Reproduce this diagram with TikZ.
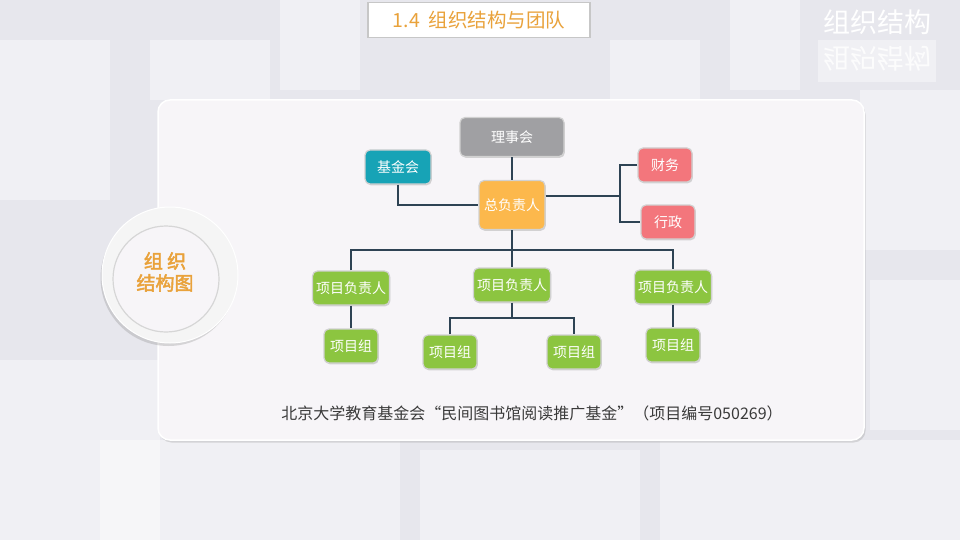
\documentclass[tikz,border=0pt]{standalone}
\usepackage{fontspec}
\newfontfamily\cjk{Noto Sans CJK SC}
\newfontfamily\cjkbold[FakeBold=2.5]{Noto Sans CJK SC}
\usetikzlibrary{positioning, shadows}
\definecolor{bggray}{HTML}{E7E7ED}
\definecolor{panelfill}{HTML}{F7F5F8}
\definecolor{titleorange}{HTML}{E9A23B}
\definecolor{councilgray}{HTML}{A0A0A3}
\definecolor{fundteal}{HTML}{17A3B6}
\definecolor{headorange}{HTML}{FCB84C}
\definecolor{deptred}{HTML}{F3767C}
\definecolor{projgreen}{HTML}{8CC540}
\definecolor{linkblue}{HTML}{2E4354}
\definecolor{notegray}{HTML}{3A3A3A}
\tikzstyle{box} = [rectangle, rounded corners=5pt, draw=white!82!black, line width=1.2pt, text=white, inner sep=0pt, font=\cjk\fontsize{14}{16}\selectfont, drop shadow={opacity=0.3, shadow xshift=0.8pt, shadow yshift=-1.3pt}]
\tikzstyle{graybox} = [box, fill=councilgray, minimum width=104pt, minimum height=39pt]
\tikzstyle{tealbox} = [box, fill=fundteal, minimum width=66pt, minimum height=34pt]
\tikzstyle{orangebox} = [box, fill=headorange, minimum width=66pt, minimum height=49pt]
\tikzstyle{redbox} = [box, fill=deptred, minimum width=54pt, minimum height=34pt]
\tikzstyle{leadbox} = [box, fill=projgreen, minimum width=77pt, minimum height=34pt]
\tikzstyle{groupbox} = [box, fill=projgreen, minimum width=54pt, minimum height=34pt]
\tikzstyle{link} = [line width=1.7pt, draw=linkblue]
\tikzstyle{tile} = [fill=white, opacity=0.4]

\begin{document}
\begin{tikzpicture}[x=1pt, y=-1pt]
        % Background
        \fill [bggray] (0,0) rectangle (960,540);
        \useasboundingbox (0,0) rectangle (960,540);
        \fill [tile] (0,40) rectangle (110,200);
        \fill [tile] (150,40) rectangle (270,100);
        \fill [tile] (280,0) rectangle (360,90);
        \fill [tile] (610,40) rectangle (700,100);
        \fill [tile] (730,0) rectangle (800,90);
        \fill [tile] (860,90) rectangle (960,250);
        \fill [tile] (0,360) rectangle (160,540);
        \fill [tile] (100,440) rectangle (400,540);
        \fill [tile] (420,450) rectangle (640,540);
        \fill [tile] (660,440) rectangle (960,540);
        \fill [tile] (870,280) rectangle (960,430);
        \fill [white, opacity=0.4] (818,40) rectangle (936,82);

        % Title
        \node (title) [rectangle, fill=white, draw=black!22, line width=1.5pt, minimum width=222pt, minimum height=35pt, text=titleorange, font=\cjk\fontsize{19.5}{21}\selectfont] at (479,20) {1.4\ \ 组织结构与团队};
        \node (corner) [text=white, font=\cjk\fontsize{27}{30}\selectfont] at (877,22) {组织结构};
        \node (mirror) [text=white, opacity=0.8, font=\cjk\fontsize{27}{30}\selectfont] at (877,59) {\scalebox{1}[-1]{组织结构}};

        % Panel
        \node (panel) [rectangle, rounded corners=12pt, fill=panelfill, draw=white, line width=1.5pt, minimum width=706pt, minimum height=340pt, drop shadow={opacity=0.25, shadow xshift=1.5pt, shadow yshift=-2.5pt}] at (511,270) {};
        \node (ring) [circle, fill=black!4, draw=white, line width=1pt, minimum size=136pt, drop shadow={opacity=0.28, shadow xshift=-1.5pt, shadow yshift=-3pt}] at (170,275) {};
        \node (disc) [circle, fill=panelfill, draw=black!16, line width=1.2pt, minimum size=106pt] at (166,279) {};
        \node (badge) [align=center, text=titleorange, font=\cjkbold\fontsize{19}{22}\selectfont] at (165,272) {组\ 织\\结构图};

        % Nodes
        \node (council) [graybox] at (512,137) {理事会};
        \node (fund) [tealbox] at (398,167) {基金会};
        \node (director) [orangebox] at (512,205) {总负责人};
        \node (finance) [redbox] at (665,165) {财务};
        \node (admin) [redbox] at (668,222) {行政};
        \node (lead_left) [leadbox] at (351,288) {项目负责人};
        \node (lead_mid) [leadbox] at (512,285) {项目负责人};
        \node (lead_right) [leadbox] at (673,287) {项目负责人};
        \node (group_left) [groupbox] at (351,346) {项目组};
        \node (group_midleft) [groupbox] at (450,352) {项目组};
        \node (group_midright) [groupbox] at (574,352) {项目组};
        \node (group_right) [groupbox] at (673,345) {项目组};
        \coordinate (split_right) at (620,196);
        \coordinate (bus) at (512,250);
        \coordinate (sub_bus) at (512,318);

        % Lines
        \draw [link] (council) -- (director);
        \draw [link] (fund.south) |- (director.west);
        \draw [link] (director.east |- split_right) -- (split_right);
        \draw [link] (finance.west) -| (split_right) |- (admin.west);
        \draw [link] (director.south) -- (bus);
        \draw [link] (lead_left.north) |- (bus) -| (lead_right.north);
        \draw [link] (bus) -- (lead_mid.north);
        \draw [link] (lead_left) -- (group_left);
        \draw [link] (lead_right) -- (group_right);
        \draw [link] (lead_mid.south) -- (sub_bus);
        \draw [link] (group_midleft.north) |- (sub_bus) -| (group_midright.north);

        % Note
        \node (note) [text=notegray, font=\cjk\fontsize{16}{18}\selectfont] at (532,413) {北京大学教育基金会“民间图书馆阅读推广基金”（项目编号050269）};
    \end{tikzpicture}
\end{document}
